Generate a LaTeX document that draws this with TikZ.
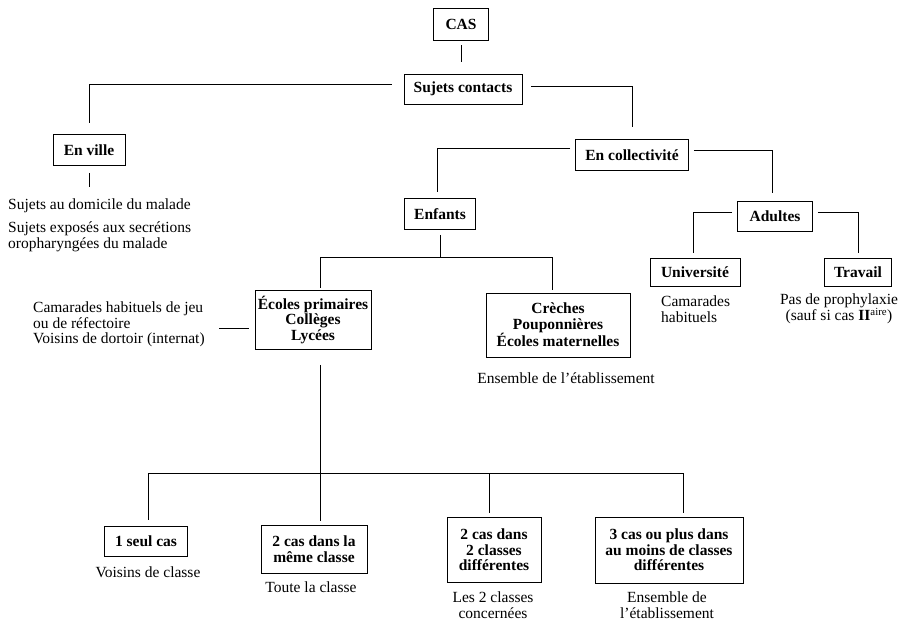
\documentclass[tikz,border=0pt]{standalone}
\usepackage{fontspec}
\setmainfont{Liberation Serif}
\tikzset{
  box/.style={draw, line width=0.9pt, font=\fontsize{15.5}{15.5}\selectfont\bfseries, align=center, inner sep=2pt},
  txt/.style={font=\fontsize{15.5}{16.5}\selectfont, inner sep=0pt},
  link/.style={line width=0.8pt}
}
\begin{document}
\begin{tikzpicture}[x=1pt,y=-1pt]
\useasboundingbox (0,0) rectangle (909,622);
% boxes
\node[box, minimum width=55pt, minimum height=32pt] (cas) at (461,24) {CAS};
\node[box, minimum width=118pt, minimum height=30pt] (sc) at (463,89) {Sujets contacts};
\node[box, minimum width=72pt, minimum height=31pt] (ville) at (89,150) {En ville};
\node[box, minimum width=113pt, minimum height=31pt] (coll) at (632,155) {En collectivité};
\node[box, minimum width=71pt, minimum height=31pt] (enf) at (440,214) {Enfants};
\node[box, minimum width=75pt, minimum height=30pt] (adu) at (775,216) {Adultes};
\node[box, minimum width=90pt, minimum height=28pt] (univ) at (695,272) {Université};
\node[box, minimum width=67pt, minimum height=28pt] (trav) at (858,272) {Travail};
\node[box, minimum width=116pt, minimum height=59pt] (ecol) at (313,320) {Écoles primaires\\Collèges\\Lycées};
\node[box, minimum width=144pt, minimum height=64pt] (crech) at (558,325) {Crèches\\Pouponnières\\Écoles maternelles};
\node[box, minimum width=83pt, minimum height=30pt] (b1) at (146,541) {1 seul cas};
\node[box, minimum width=106pt, minimum height=48pt] (b2) at (314,549) {2 cas dans la\\même classe};
\node[box, minimum width=94pt, minimum height=65pt] (b3) at (494,550) {2 cas dans\\2 classes\\différentes};
\node[box, minimum width=148pt, minimum height=66pt] (b4) at (669,550) {3 cas ou plus dans\\au moins de classes\\différentes};
% texts
\node[txt, anchor=west] (villetxt1) at (8,206) {Sujets au domicile du malade};
\node[txt, anchor=west, align=left] (villetxt2) at (8,237) {Sujets exposés aux secrétions\\oropharyngées du malade};
\node[txt, anchor=west, align=left] (camjeu) at (33,315) {Camarades habituels de jeu\\ou de réfectoire};
\node[txt, anchor=west] (dortoir) at (33,340) {Voisins de dortoir (internat)};
\node[txt] (crechtxt) at (566,378) {Ensemble de l’établissement};
\node[txt, anchor=west, align=left] (univtxt) at (661,309) {Camarades\\habituels};
\node[txt, align=center] (travtxt) at (839,309) {Pas de prophylaxie\\(sauf si cas {\bfseries II}\textsuperscript{aire})};
\node[txt] (b1txt) at (148,572) {Voisins de classe};
\node[txt] (b2txt) at (311,587) {Toute la classe};
\node[txt, align=center] (b3txt) at (493,605) {Les 2 classes\\concernées};
\node[txt, align=center] (b4txt) at (667,605) {Ensemble de\\l’établissement};
% connectors
\draw[link, shorten <=5pt, shorten >=12pt] (cas.south) -- (cas.south |- sc.north);
\draw[link, shorten >=11pt] ([xshift=-12pt,yshift=5pt]sc.west) -| (ville.north);
\draw[link, shorten <=7pt, shorten >=12pt] (ville.south) -- (ville.south |- villetxt1.north);
\draw[link, shorten >=12pt] ([xshift=9pt,yshift=3pt]sc.east) -| (coll.north);
\draw[link, shorten >=6pt] ([xshift=-5pt,yshift=7pt]coll.west) -| ([xshift=-3pt]enf.north);
\draw[link, shorten >=8pt] ([xshift=5pt,yshift=5pt]coll.east) -| ([xshift=-3pt]adu.north);
\draw[link, shorten >=5pt] ([xshift=-5pt,yshift=4pt]adu.west) -| ([xshift=-2pt]univ.north);
\draw[link, shorten >=5pt] ([xshift=5pt,yshift=4pt]adu.east) -| (trav.north);
\coordinate (fork1) at (440,257);
\draw[link, shorten <=5pt] (enf.south) -- (fork1);
\draw[link, shorten >=2pt] (fork1) -| ([xshift=7pt]ecol.north);
\draw[link, shorten >=3pt] (fork1) -| ([xshift=-6pt]crech.north);
\coordinate (camend) at (219,328);
\draw[link, shorten >=6pt] (camend) -- (ecol.west |- camend);
\coordinate (fork2) at (320,473);
\draw[link, shorten <=15pt] ([xshift=7pt]ecol.south) -- (fork2);
\draw[link, shorten >=6pt] (fork2) -| ([xshift=2pt]b1.north);
\draw[link, shorten >=4pt] (fork2) -- (fork2 |- b2.north);
\draw[link, shorten >=4pt] (fork2) -| ([xshift=-5pt]b3.north);
\draw[link, shorten >=4pt] (fork2) -| ([xshift=14pt]b4.north);
\end{tikzpicture}
\end{document}
